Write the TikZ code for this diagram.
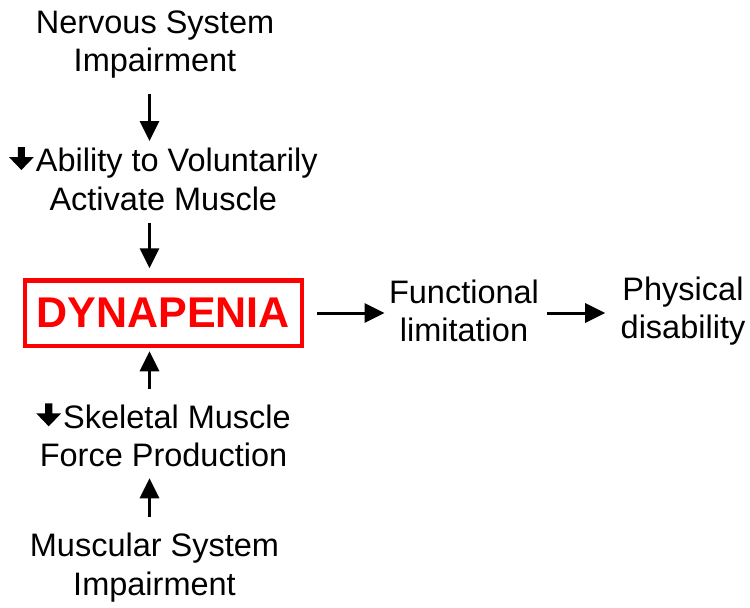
\documentclass[tikz,border=0pt]{standalone}
\usepackage{fontspec}
\setmainfont{Liberation Sans}
\usetikzlibrary{arrows.meta}
\definecolor{dynred}{RGB}{255,0,0}
\newcommand{\thickdown}{\tikz[baseline=0pt,x=1pt,y=1pt]\fill[black] (8.9,24.7) -- (16.1,24.7) -- (16.1,14.7) -- (25,14.7) -- (12.5,1.7) -- (0,14.7) -- (8.9,14.7) -- cycle;\kern2pt}
\begin{document}
\begin{tikzpicture}[x=1pt,y=-1pt,
  lbl/.style={font=\fontsize{32.5}{38.4}\selectfont, align=center, inner sep=0pt, outer sep=0pt, anchor=base},
  arr/.style={line width=3pt, -{Triangle[length=20pt,width=19pt]}}]
\useasboundingbox (0,0) rectangle (750,608);
\coordinate (spine) at (149.5,0);
\node[lbl] (nerv) at (155,71.7) {Nervous System\\Impairment};
\node[lbl] (abil) at (163.3,210.1) {\thickdown Ability to Voluntarily\\Activate Muscle};
\node[draw=dynred, line width=4.5pt, text=dynred, font=\fontsize{43}{50}\selectfont\bfseries, minimum width=276.7pt, minimum height=65.5pt, inner sep=0pt, outer sep=0pt] (dyn) at (163.4,313) {DYNAPENIA};
\node[lbl] (skel) at (163.5,466.4) {\thickdown Skeletal Muscle\\Force Production};
\node[lbl] (musc) at (154.5,595) {Muscular System\\Impairment};
\node[lbl] (func) at (464,341.7) {Functional\\limitation};
\node[lbl] (phys) at (683,338.5) {Physical\\disability};
\draw[arr, shorten <=15.5pt, shorten >=6pt] (nerv.south -| spine) -- (abil.north -| spine);
\draw[arr, shorten <=13pt, shorten >=12pt] (abil.south -| spine) -- (dyn.north -| spine);
\draw[arr, shorten <=14.3pt, shorten >=5.5pt] (skel.north -| spine) -- (dyn.south -| spine);
\draw[arr, shorten <=16pt, shorten >=11.6pt] (musc.north -| spine) -- (skel.south -| spine);
\draw[arr, shorten <=15.3pt, shorten >=4.4pt] (dyn.east) -- (dyn.east -| func.west);
\draw[arr, shorten <=8pt, shorten >=15.5pt] (dyn.east -| func.east) -- (dyn.east -| phys.west);
\end{tikzpicture}
\end{document}
